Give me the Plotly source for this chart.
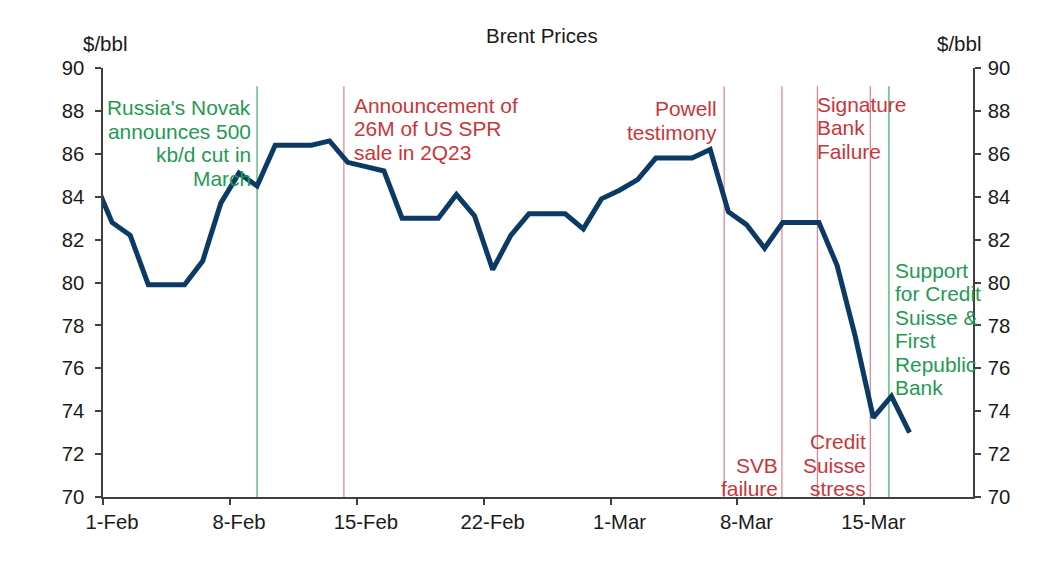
import pandas as pd
import plotly.graph_objects as go

# ---- data ----
start_date = "2023-01-31"
brent = [84.8,
         82.8, 82.2, 79.9, 79.9, 79.9, 81.0, 83.7, 85.1, 84.5, 86.4, 86.4, 86.4,
         86.6, 85.6, 85.4, 85.2, 83.0, 83.0, 83.0, 84.1, 83.1, 80.6, 82.2, 83.2,
         83.2, 83.2, 82.5, 83.9,
         84.3, 84.8, 85.8, 85.8, 85.8, 86.2, 83.3, 82.7, 81.6, 82.8, 82.8, 82.8,
         80.8, 77.5, 73.7, 74.7, 73.0]
dates = pd.date_range(start_date, periods=len(brent), freq="D") + pd.Timedelta(hours=12)

tick_dates = ["2023-02-01", "2023-02-08", "2023-02-15", "2023-02-22",
              "2023-03-01", "2023-03-08", "2023-03-15"]
tick_labels = ["1-Feb", "8-Feb", "15-Feb", "22-Feb", "1-Mar", "8-Mar", "15-Mar"]
y_ticks = [70, 72, 74, 76, 78, 80, 82, 84, 86, 88, 90]

# labels sit in the middle of their day, tick marks at the day boundary
label_pos = pd.to_datetime(tick_dates) + pd.Timedelta(hours=12)

RED_TXT = "#C9353B"
RED_LINE = "#E07F84"
GREEN_TXT = "#1F9A52"
GREEN_LINE = "#3BAA6C"
NAVY = "#0B3A64"
FONT = "Arial, Liberation Sans, sans-serif"
AX = "#404040"

# events: (line date, colour, text lines, side, xshift, first-line price)
events = [
    ("2023-02-09 12:00", "g", ["Russia's Novak", "announces 500", "kb/d cut in", "March"], "right", -4, 88.15),
    ("2023-02-14 07:00", "r", ["Announcement of", "26M of US SPR", "sale in 2Q23"], "left", 8, 88.27),
    ("2023-03-07 06:30", "r", ["Powell", "testimony"], "right", -5, 88.11),
    ("2023-03-10 11:00", "r", ["SVB", "failure"], "right", -2, 71.48),
    ("2023-03-12 10:00", "r", ["Signature", "Bank", "Failure"], "left", -2, 88.30),
    ("2023-03-15 08:00", "r", ["Credit", "Suisse", "stress"], "right", -2, 72.57),
    ("2023-03-16 08:40", "g", ["Support", "for Credit", "Suisse &", "First", "Republic", "Bank"], "left", 4, 80.57),
]
line_top = 89.15
line_gap_px = 23.5

fig = go.Figure()
fig.add_trace(go.Scatter(x=dates, y=brent, mode="lines",
                         line=dict(color=NAVY, width=5), hoverinfo="x+y",
                         showlegend=False))
fig.add_trace(go.Scatter(x=dates, y=brent, mode="lines", yaxis="y2",
                         line=dict(color="rgba(0,0,0,0)", width=0),
                         hoverinfo="skip", showlegend=False))

for d, c, lines, side, xs, ytop in events:
    lc = GREEN_LINE if c == "g" else RED_LINE
    tc = GREEN_TXT if c == "g" else RED_TXT
    fig.add_shape(type="line", x0=d, x1=d, y0=70, y1=line_top, xref="x", yref="y",
                  line=dict(color=lc, width=1.2), layer="below")
    for i, t in enumerate(lines):
        fig.add_annotation(x=d, y=ytop, xref="x", yref="y", text=t, showarrow=False,
                           xanchor=side, yanchor="middle", xshift=xs,
                           yshift=-line_gap_px * i,
                           font=dict(family=FONT, size=20.9, color=tc))

fig.add_annotation(text="Brent Prices", xref="paper", yref="paper", x=0.5046, y=1.0746,
                   showarrow=False, xanchor="center", yanchor="middle",
                   font=dict(family=FONT, size=20.5, color="#1a1a1a"))
fig.add_annotation(text="$/bbl", xref="paper", yref="paper", x=0.002, y=1.058,
                   showarrow=False, xanchor="center", yanchor="middle",
                   font=dict(family=FONT, size=20.5, color="#1a1a1a"))
fig.add_annotation(text="$/bbl", xref="paper", yref="paper", x=0.984, y=1.058,
                   showarrow=False, xanchor="center", yanchor="middle",
                   font=dict(family=FONT, size=20.5, color="#1a1a1a"))

axis_common = dict(showgrid=False, zeroline=False, showline=True, linecolor=AX,
                   linewidth=1.5, tickcolor=AX, tickwidth=1.5,
                   tickfont=dict(family=FONT, size=20.3, color="#1a1a1a"))

fig.update_layout(
    width=1047, height=551,
    margin=dict(l=95, r=82, t=60, b=62),
    plot_bgcolor="white", paper_bgcolor="white",
    xaxis=dict(type="date", range=["2023-02-01", "2023-03-21"],
               tickvals=label_pos, ticktext=tick_labels, ticks="outside", ticklen=6,
               tickcolor="rgba(0,0,0,0)", ticklabelstandoff=0,
               minor=dict(tickvals=tick_dates, ticks="outside", ticklen=6,
                          tickcolor=AX, tickwidth=1.5, showgrid=False),
               **{k: v for k, v in axis_common.items() if k != "tickcolor"}),
    yaxis=dict(range=[70, 90], tickvals=y_ticks, ticks="outside", ticklen=6,
               ticklabelstandoff=7, **axis_common),
    yaxis2=dict(range=[70, 90], tickvals=y_ticks, overlaying="y", side="right",
                ticks="outside", ticklen=6, ticklabelstandoff=3, **axis_common),
)

fig.write_html("out.html")
